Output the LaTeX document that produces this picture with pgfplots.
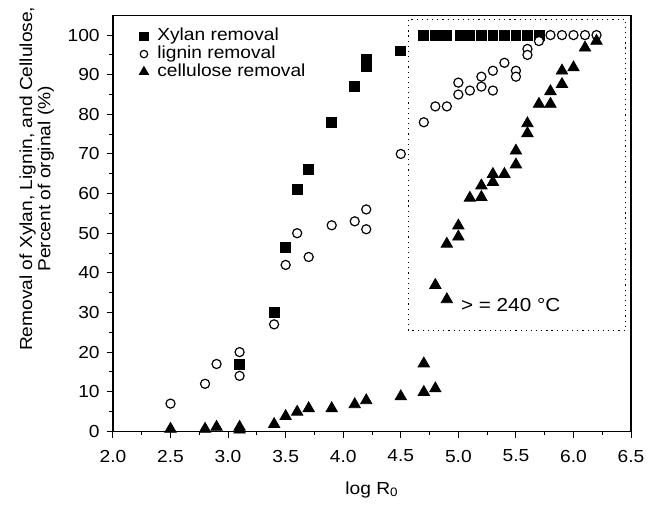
\documentclass[border=0pt]{standalone}
\usepackage{fontspec}
\setmainfont[FakeStretch=1.1]{Liberation Sans}
\usepackage{pgfplots}
\pgfplotsset{compat=1.18}

\pgfplotstableread{
x y
3.1 17
3.4 30
3.5 46.5
3.6 61
3.7 66
3.9 78
4.1 87
4.2 92
4.2 94
4.5 96
4.7 100
4.8 100
4.9 100
5.02 100
5.1 100
5.2 100
5.3 100
5.4 100
5.5 100
5.6 100
5.7 100
}\xylan

\pgfplotstableread{
x y
2.5 7
2.8 12
2.9 17
3.1 20
3.1 14
3.4 27
3.5 42
3.6 50
3.7 44
3.9 52
4.1 53
4.2 51
4.2 56
4.5 70
4.7 78
4.8 82
4.9 82
5.0 88
5.0 85
5.1 86
5.2 89.5
5.2 87
5.3 91
5.3 86
5.4 93
5.5 91
5.5 89.5
5.6 96.5
5.6 95
5.7 98.5
5.8 100
5.9 100
6.0 100
6.1 100
6.2 100
}\lignin

\pgfplotstableread{
x y
2.5 0.6
2.8 0.6
2.9 1.1
3.1 1.1
3.1 0.4
3.4 1.8
3.5 3.8
3.6 4.9
3.7 5.8
3.9 5.8
4.1 6.8
4.2 7.8
4.5 8.8
4.7 17.1
4.7 9.9
4.8 10.8
4.8 36.9
4.9 33.3
4.9 47.3
5.0 49.1
5.0 51.9
5.1 58.9
5.2 59.1
5.2 62
5.3 62.9
5.3 64.9
5.4 64.9
5.5 67.3
5.5 70.8
5.6 75.2
5.6 77.7
5.7 82.6
5.8 82.6
5.8 85.8
5.9 87.6
5.9 91
6.0 91.8
6.1 96.8
6.2 98.5
}\cellulose

\begin{document}
\begin{tikzpicture}
\begin{axis}[
  width=261.5pt, height=210pt, scale only axis,
  xmin=2, xmax=6.5, ymin=0, ymax=105,
  xtick={2,2.5,...,6.5}, ytick={0,10,...,100},
  minor x tick num=1, minor y tick num=1,
  xtick pos=left, ytick pos=left,
  tick align=outside,
  major tick length=3.2pt, minor tick length=1.8pt,
  axis line style={line width=0.6pt},
  every tick/.style={line width=0.5pt, black},
  tick label style={font=\fontsize{8.8}{10}\selectfont},
  /pgf/number format/assume math mode=true,
  xticklabel style={yshift=-2.6pt, /pgf/number format/.cd, fixed, fixed zerofill, precision=1},
  xlabel={log R\textsubscript{0}},
  xlabel style={font=\fontsize{8.8}{10}\selectfont, yshift=-3pt},
  ylabel={Removal of Xylan, Lignin, and Cellulose,\\Percent of orginal (\%)},
  ylabel style={align=center, font=\fontsize{8.8}{7.6}\selectfont, at={(ticklabel cs:0.607)}},
  legend style={at={(0.042,0.972)}, anchor=north west, draw=none, fill=none, inner sep=0pt,
    font=\fontsize{8.8}{10}\selectfont, row sep=0pt,
    nodes={inner sep=0.3pt, text height=6.6pt, text depth=1.8pt}},
  legend cell align=left,
  legend image code/.code={\path (0,0) (0.37cm,0);
    \draw[#1, every mark/.append style={scale=0.82}] plot coordinates {(0.15cm,0cm)};},
]
\addplot[only marks, mark=square*, mark size=2.5pt, black] table {\xylan};
\addlegendentry{Xylan removal}
\addplot[only marks, mark=*, mark size=2.3pt, mark options={fill=white, draw=black, line width=0.6pt}] table {\lignin};
\addlegendentry{lignin removal}
\addplot[only marks, mark=triangle*, mark size=3.3pt, black] table {\cellulose};
\addlegendentry{cellulose removal}
\draw[dotted, line width=0.6pt] (axis cs:4.565,25.5) rectangle (axis cs:6.45,104);
\node[anchor=base west, inner sep=0pt, font=\fontsize{9.5}{11}\selectfont] at (axis cs:5.02,30.25) {> = 240 °C};
\coordinate (bl) at (rel axis cs:0,0);
\coordinate (tr) at (rel axis cs:1,1);
\end{axis}
\path (bl) ++(-57pt,-32pt);
\path (tr) ++(7pt,7.5pt);
\end{tikzpicture}
\end{document}
